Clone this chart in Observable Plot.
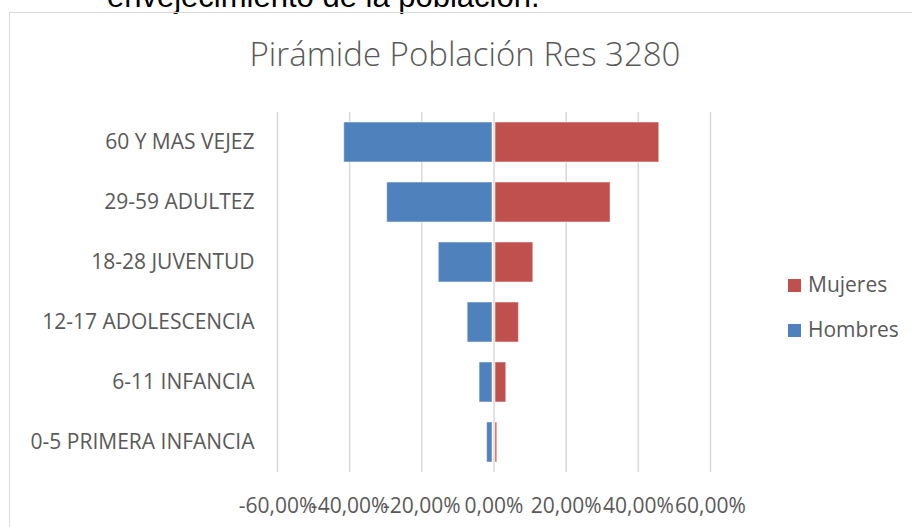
<!DOCTYPE html>
<html>
<head>
<meta charset="utf-8">
<script src="https://cdn.jsdelivr.net/npm/d3@7"></script>
<script src="https://cdn.jsdelivr.net/npm/@observablehq/plot@0.6"></script>
<style>
  html, body { margin: 0; padding: 0; background: #fff; }
  #wrap { position: relative; width: 912px; height: 527px; overflow: hidden; background: #fff; }
  #above { position: absolute; left: 107px; top: -19px; font-family: "Liberation Sans", Arial, sans-serif; font-size: 31px; color: #000; white-space: nowrap; line-height: 1; }
  #frame { position: absolute; left: 9px; top: 12px; width: 1000px; height: 1000px; border: 1.5px solid #d9d9d9; box-sizing: border-box; }
  #title { position: absolute; left: 0; width: 930px; top: 33px; text-align: center; font-family: "Open Sans", sans-serif; font-weight: 300; font-size: 33px; color: #595959; line-height: 1.3; white-space: nowrap; }
  #chart { position: absolute; left: 0; top: 0; }
  .leg { position: absolute; left: 788px; font-family: "Open Sans", sans-serif; font-size: 21px; color: #595959; white-space: nowrap; line-height: 1; }
  .leg span.sw { display: inline-block; width: 13px; height: 13px; margin-right: 7px; vertical-align: 0; }
</style>
</head>
<body>
<div id="wrap">
  <div id="above">envejecimiento de la población.</div>
  <div id="frame"></div>
  <div id="chart"></div>
  <div id="title">Pirámide Población Res 3280</div>
  <div class="leg" id="legM" style="top:274px"><span class="sw" style="background:#C0504D"></span>Mujeres</div>
  <div class="leg" id="legH" style="top:319px"><span class="sw" style="background:#4F81BD"></span>Hombres</div>
</div>
<script>
const categories = ["60 Y MAS VEJEZ", "29-59 ADULTEZ", "18-28 JUVENTUD", "12-17 ADOLESCENCIA", "6-11 INFANCIA", "0-5 PRIMERA INFANCIA"];
const hombres = [41.5, 29.6, 15.3, 7.3, 4.0, 1.9];   // percent
const mujeres = [45.8, 32.3, 10.9, 6.9, 3.4, 0.9];   // percent
const xTicks = [-0.6, -0.4, -0.2, 0, 0.2, 0.4, 0.6];

const hData = categories.map((c, i) => ({cat: c, value: -hombres[i] / 100}));
const mData = categories.map((c, i) => ({cat: c, value: mujeres[i] / 100}));
const fmt = d => (Math.abs(d) < 1e-9 ? "0,00%" : (d * 100).toFixed(2).replace(".", ",") + "%");

const chart = Plot.plot({
  width: 912,
  height: 527,
  marginLeft: 277,
  marginRight: 202,
  marginTop: 112,
  marginBottom: 55,
  style: {fontFamily: "'Open Sans', sans-serif", fontSize: "21px", color: "#595959", background: "transparent", overflow: "visible"},
  x: {domain: [-0.6, 0.6], ticks: xTicks, tickFormat: fmt, tickSize: 0, tickPadding: 25.5, label: null},
  y: {domain: categories, paddingInner: 1/3, paddingOuter: 1/6, tickSize: 0, tickPadding: 23, label: null},
  marks: [
    Plot.gridX(xTicks, {stroke: "#d9d9d9", strokeOpacity: 1, strokeWidth: 1.5}),
    Plot.barX(hData, {x1: 0, x2: "value", y: "cat", fill: "#4F81BD", insetRight: 1.5, stroke: "#ffffff", strokeOpacity: 0.5, strokeWidth: 1}),
    Plot.barX(mData, {x1: 0, x2: "value", y: "cat", fill: "#C0504D", insetLeft: 1.5, stroke: "#ffffff", strokeOpacity: 0.5, strokeWidth: 1})
  ]
});
document.getElementById("chart").appendChild(chart);
</script>
</body>
</html>
